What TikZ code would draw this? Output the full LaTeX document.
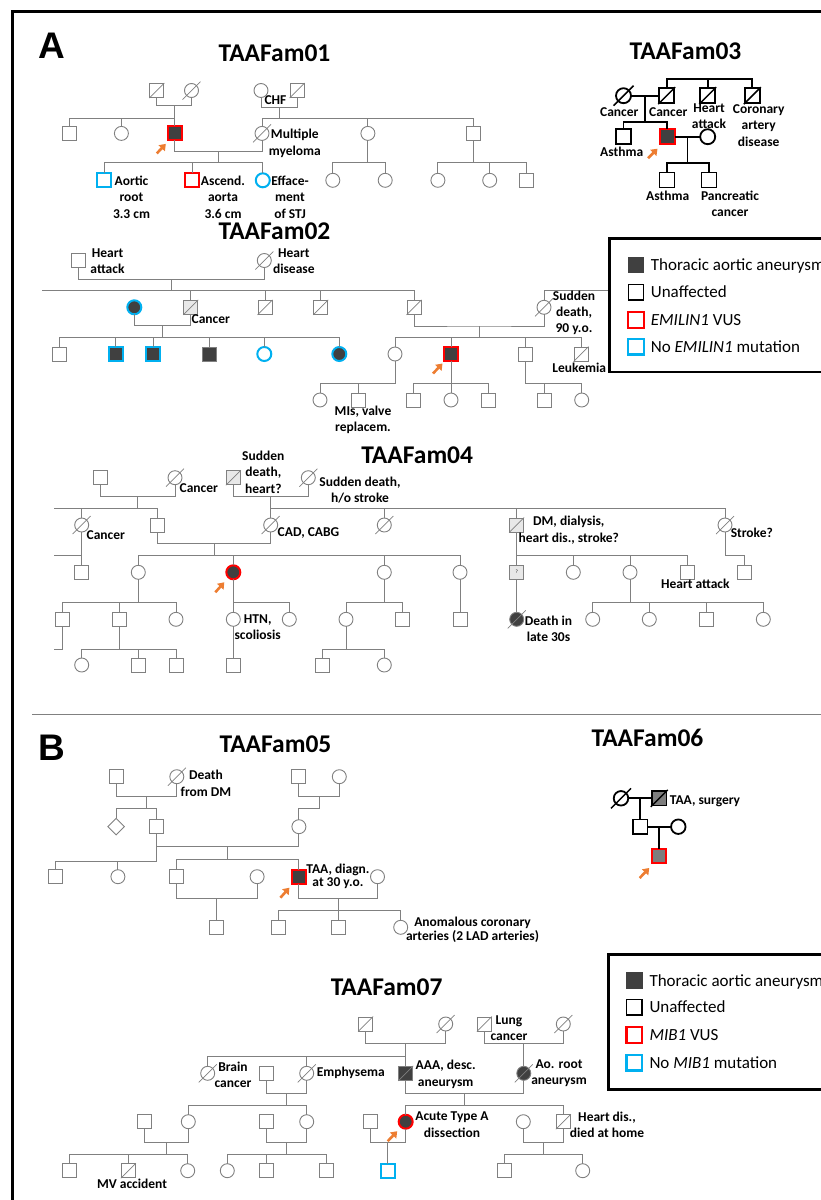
\documentclass[tikz,border=0pt]{standalone}
\usepackage{fontspec}
\setmainfont{Carlito}
\newfontfamily\panelfont{Liberation Sans}
\usetikzlibrary{arrows.meta,shapes.geometric}
\definecolor{pedgray}{gray}{0.5}
\definecolor{affgray}{RGB}{64,64,64}
\definecolor{midgray}{RGB}{125,125,125}
\definecolor{vusred}{RGB}{255,0,0}
\definecolor{nomutcyan}{RGB}{0,176,240}
\definecolor{arroworange}{RGB}{237,125,49}
\newcommand{\labsize}{\bfseries\fontsize{13.5pt}{16.3pt}\selectfont}
\newcommand{\titlesize}{\bfseries\fontsize{25.5pt}{30pt}\selectfont}
\newcommand{\legsize}{\fontsize{17pt}{20pt}\selectfont}

\begin{document}
\begin{tikzpicture}[x=1pt,y=-1pt,
    ind/.style={draw=pedgray,line width=.9pt,fill=white,minimum size=14pt,inner sep=0pt,outer sep=0pt},
    male/.style={ind,rectangle},
    female/.style={ind,circle},
    unknown/.style={ind,diamond,minimum width=16.5pt,minimum height=16.5pt},
    aff/.style={fill=affgray},
    light/.style={fill=gray!18},
    vus/.style={draw=vusred,line width=2pt},
    nomut/.style={draw=nomutcyan,line width=2pt},
    slash/.style={draw=pedgray,line width=.7pt},
    dead/.style={append after command={([shift={(-#1,#1)}]\tikzlastnode.center)
        edge[slash] ([shift={(#1,-#1)}]\tikzlastnode.center)}},
    dead/.default=9,
    rel/.style={draw=pedgray,line width=.9pt},
    lab/.style={font=\labsize,align=center,inner sep=0pt},
    title/.style={font=\titlesize,inner sep=0pt},
    parrow/.style={draw=arroworange,line width=2.6pt,-{Triangle[length=6pt,width=8.5pt]}},
    legbox/.style={draw=black,line width=2.6pt,fill=white,anchor=north west,minimum width=240pt},
    legsym/.style={draw=black,line width=1.3pt,minimum size=15.5pt,inner sep=0pt},
    legtext/.style={font=\legsize,anchor=base west,inner sep=0pt}
  ]
  \useasboundingbox (0,0) rectangle (821,1200);
  \clip (0,0) rectangle (821,1200);

  % frame, panels
  \draw[line width=2.2pt] (12.5,1210) |- (830,11.5);
  \draw[draw=pedgray,line width=1.5pt] (32,714.3) -- (830,714.3);
  \node[font=\panelfont\bfseries\fontsize{37pt}{40pt}\selectfont,inner sep=0pt] (panelA) at (51.4,46) {A};
  \node[font=\panelfont\bfseries\fontsize{37pt}{40pt}\selectfont,inner sep=0pt] (panelB) at (52.3,747.5) {B};

  % ---------------- TAAFam01
  \node[title] (t01) at (274.5,53.5) {TAAFam01};
  \node[male,dead=7.5] (aI1) at (156.9,90.5) {};
  \node[female,dead] (aI2) at (191.5,90.5) {};
  \node[female] (aI3) at (261,90.5) {};
  \node[male,dead=7.5] (aI4) at (297.2,90.5) {};
  \node[male] (aII1) at (69,133.4) {};
  \node[female] (aII2) at (121.4,133.4) {};
  \node[male,aff,vus] (aII3) at (174.8,133.4) {};
  \node[female,dead] (aII4) at (262,133.4) {};
  \node[female] (aII5) at (367.9,133.4) {};
  \node[male] (aII6) at (473.1,133.4) {};
  \node[male,nomut] (aIII1) at (104.1,180.3) {};
  \node[male,vus] (aIII2) at (192.1,180.3) {};
  \node[female,nomut] (aIII3) at (262.8,180.3) {};
  \node[female] (aIII4) at (332.8,180.3) {};
  \node[female] (aIII5) at (385.2,180.3) {};
  \node[female] (aIII6) at (437.9,180.3) {};
  \node[female] (aIII7) at (489.7,180.3) {};
  \node[male] (aIII8) at (526.6,180.3) {};
  \coordinate (aM1) at (174.8,105.2);
  \coordinate (aM2) at (279.1,107.5);
  \coordinate (aM3) at (218.4,151.7);
  \coordinate (aS1) at (0,118.3);
  \coordinate (aS2) at (0,162.8);

  \draw[rel] (aI1.south) |- (aM1) -| (aI2.south);
  \draw[rel] (aM1) -- (aM1 |- aS1);
  \draw[rel] (aII1.north) |- (aS1 -| aII3) -- (aII3.north);
  \draw[rel] (aII2.north) -- (aII2 |- aS1);
  \draw[rel] (aI3.south) |- (aM2) -| (aI4.south);
  \draw[rel] (aM2) -- (aM2 |- aS1);
  \draw[rel] (aII4.north) |- (aS1 -| aII6) -- (aII6.north);
  \draw[rel] (aII5.north) -- (aII5 |- aS1);
  \draw[rel] (aII3.south) |- (aM3) -| (aII4.south);
  \draw[rel] (aM3) -- (aM3 |- aS2);
  \draw[rel] (aIII1.north) |- (aS2 -| aIII3) -- (aIII3.north);
  \draw[rel] (aIII2.north) -- (aIII2 |- aS2);
  \draw[rel] (aII5.south) -- (aII5 |- aS2);
  \draw[rel] (aIII4.north) |- (aS2 -| aIII5) -- (aIII5.north);
  \draw[rel] (aII6.south) -- (aII6 |- aS2);
  \draw[rel] (aIII6.north) |- (aS2 -| aIII8) -- (aIII8.north);
  \draw[rel] (aIII7.north) -- (aIII7 |- aS2);
  \draw[parrow] ([shift={(-18,20)}]aII3.center) -- ([shift={(-9,10.5)}]aII3.center);

  \node[lab] (aL0) at (275.5,100.5) {CHF};
  \node[lab] (aL1) at (294.8,143.4) {Multiple\\myeloma};
  \node[lab] (aL2) at (131.5,197.2) {Aortic\\root\\3.3 cm};
  \node[lab] (aL3) at (223,197.2) {Ascend.\\aorta\\3.6 cm};
  \node[lab] (aL4) at (290,197.2) {Efface-\\ment\\of STJ};

  % ---------------- TAAFam03
  \begin{scope}[ind/.append style={draw=black,line width=1.8pt,minimum size=15pt},
      rel/.append style={draw=black,line width=1.8pt},
      slash/.append style={draw=black,line width=1.5pt}]
    \node[title] (t03) at (685.5,51.3) {TAAFam03};
    \node[female,dead=10] (cI1) at (623.5,95.7) {};
    \node[male,dead=8.5] (cI2) at (666.7,95.7) {};
    \node[male,dead=8.5] (cI3) at (707.7,95.7) {};
    \node[male,dead=8.5] (cI4) at (752.3,95.7) {};
    \node[male] (cII1) at (623.5,136.7) {};
    \node[male,aff,vus] (cII2) at (667,136.7) {};
    \node[female] (cII3) at (707.7,136.7) {};
    \node[male] (cIII1) at (667,180) {};
    \node[male] (cIII2) at (709,180) {};
    \coordinate (cS0) at (0,79.3);
    \coordinate (cM1) at (645.1,95.7);
    \coordinate (cS1) at (0,121.7);
    \coordinate (cM2) at (687.4,136.7);
    \coordinate (cS2) at (0,162.7);

    \draw[rel] (cI2.north) |- (cS0 -| cI4) -- (cI4.north);
    \draw[rel] (cI3.north) -- (cI3 |- cS0);
    \draw[rel] (cI1) -- (cI2);
    \draw[rel] (cM1) -- (cM1 |- cS1);
    \draw[rel] (cII1.north) |- (cS1 -| cII2) -- (cII2.north);
    \draw[rel] (cII2) -- (cII3);
    \draw[rel] (cM2) -- (cM2 |- cS2);
    \draw[rel] (cIII1.north) |- (cS2 -| cIII2) -- (cIII2.north);
    \draw[parrow] ([shift={(-19,21.5)}]cII2.center) -- ([shift={(-9.5,12)}]cII2.center);

    \node[lab] (cL1) at (619.3,111.7) {Cancer};
    \node[lab] (cL2) at (668.3,111.7) {Cancer};
    \node[lab] (cL3) at (709,116.5) {Heart\\attack};
    \node[lab] (cL4) at (758.7,125.5) {Coronary\\artery\\disease};
    \node[lab] (cL5) at (621.7,152.3) {Asthma};
    \node[lab] (cL6) at (667.7,196) {Asthma};
    \node[lab] (cL7) at (730,204) {Pancreatic\\cancer};
  \end{scope}

  % ---------------- TAAFam02
  \node[title] (t02) at (274.5,231.7) {TAAFam02};
  \node[male] (bI1) at (78.3,260.5) {};
  \node[female,dead] (bI2) at (264.3,260.5) {};
  \node[female,aff,nomut] (bII1) at (134.3,307.3) {};
  \node[male,light,dead=7.5] (bII2) at (190.7,307.3) {};
  \node[male,dead=7.5] (bII3) at (265,307.3) {};
  \node[male,dead=7.5] (bII4) at (320.7,307.3) {};
  \node[male,dead=7.5] (bII5) at (414,307.3) {};
  \node[female,dead] (bII6) at (544,307.3) {};
  \node[male] (bIII1) at (59.3,354) {};
  \node[male,aff,nomut] (bIII2) at (115.7,354) {};
  \node[male,aff,nomut] (bIII3) at (153.3,354) {};
  \node[male,aff] (bIII4) at (209,354) {};
  \node[female,nomut] (bIII5) at (264.3,354) {};
  \node[female,aff,nomut] (bIII6) at (339.3,354) {};
  \node[female] (bIII7) at (395,354) {};
  \node[male,aff,vus] (bIII8) at (451,354) {};
  \node[male] (bIII9) at (525.7,354) {};
  \node[male,dead=7.5] (bIII10) at (581,354) {};
  \node[female] (bIV1) at (320,400) {};
  \node[male] (bIV2) at (358.3,400) {};
  \node[male] (bIV3) at (413.3,400) {};
  \node[female] (bIV4) at (451,400) {};
  \node[male] (bIV5) at (488.3,400) {};
  \node[male] (bIV6) at (544,400) {};
  \node[female] (bIV7) at (581.7,400) {};
  \coordinate (bM1) at (171.3,279.3);
  \coordinate (bS1) at (42.3,290.7);
  \coordinate (bP1) at (615,290.7);
  \coordinate (bM2) at (162.5,325.7);
  \coordinate (bM3) at (479,326);
  \coordinate (bS2) at (0,337.3);
  \coordinate (bS3) at (0,383.3);

  \draw[rel] (bI1.south) |- (bM1) -| (bI2.south);
  \draw[rel] (bM1) -- (bM1 |- bS1);
  \draw[rel] (bS1) -| (bII5.north);
  \foreach \n in {bII2,bII3,bII4} \draw[rel] (\n.north) -- (\n |- bS1);
  \draw[rel] (bII6.north) |- (bP1);
  \draw[rel] (bII1.south) |- (bM2) -| (bII2.south);
  \draw[rel] (bM2) -- (bM2 |- bS2);
  \draw[rel] (bIII1.north) |- (bS2 -| bIII6) -- (bIII6.north);
  \foreach \n in {bIII2,bIII3,bIII4,bIII5} \draw[rel] (\n.north) -- (\n |- bS2);
  \draw[rel] (bII5.south) |- (bM3) -| (bII6.south);
  \draw[rel] (bM3) -- (bM3 |- bS2);
  \draw[rel] (bIII7.north) |- (bS2 -| bIII10) -- (bIII10.north);
  \foreach \n in {bIII8,bIII9} \draw[rel] (\n.north) -- (\n |- bS2);
  \draw[rel] (bIII7.south) |- (bS3 -| bIV1) -- (bIV1.north);
  \draw[rel] (bIV2.north) -- (bIV2 |- bS3);
  \draw[rel] (bIII8.south) -- (bIV4.north);
  \draw[rel] (bIV3.north) |- (bS3 -| bIV5) -- (bIV5.north);
  \draw[rel] (bIII9.south) |- (bS3 -| bIV7) -- (bIV7.north);
  \draw[rel] (bIV6.north) -- (bIV6 |- bS3);
  \draw[parrow] ([shift={(-18,19.5)}]bIII8.center) -- ([shift={(-8.5,9.5)}]bIII8.center);

  \node[lab] (bL1) at (107.5,261) {Heart\\attack};
  \node[lab] (bL2) at (293.8,261) {Heart\\disease};
  \node[lab] (bL3) at (210.8,319.3) {Cancer};
  \node[lab] (bL4) at (574,313) {Sudden\\death,\\90 y.o.};
  \node[lab] (bL5) at (579.3,368.3) {Leukemia};
  \node[lab] (bL6) at (363,420) {MIs, valve\\replacem.};

  % ---------------- TAAFam04
  \node[title] (t04) at (417.2,455) {TAAFam04};
  \node[male] (dI1) at (100,477.7) {};
  \node[female,dead] (dI2) at (175,477.7) {};
  \node[male,light,dead=7.5] (dI3) at (233.3,477.7) {};
  \node[female,dead] (dI4) at (308.3,477.7) {};
  \node[female,dead] (dII1) at (81.7,525) {};
  \node[male] (dII2) at (157.7,525) {};
  \node[female,dead] (dII3) at (270.7,525) {};
  \node[female,dead] (dII4) at (384.3,525) {};
  \node[male,light,dead=7.5] (dII5) at (516.7,525) {};
  \node[female,dead] (dII6) at (725,525) {};
  \node[male] (dIII1) at (81.7,572.3) {};
  \node[female] (dIII2) at (138.3,572.3) {};
  \node[female,aff,vus] (dIII3) at (233.3,572.3) {};
  \node[female] (dIII4) at (384.3,572.3) {};
  \node[female] (dIII5) at (460,572.3) {};
  \node[male,light,font=\fontsize{5pt}{6pt}\selectfont] (dIII6) at (516.7,572.3) {?};
  \node[female] (dIII7) at (573.3,572.3) {};
  \node[female] (dIII8) at (630,572.3) {};
  \node[male] (dIII9) at (687.3,572.3) {};
  \node[male] (dIII10) at (744,572.3) {};
  \node[male] (dIV1) at (62.7,619.3) {};
  \node[male] (dIV2) at (119.3,619.3) {};
  \node[female] (dIV3) at (176,619.3) {};
  \node[female] (dIV4) at (233.3,619.3) {};
  \node[female] (dIV5) at (289.3,619.3) {};
  \node[female] (dIV6) at (346,619.3) {};
  \node[male] (dIV7) at (402.7,619.3) {};
  \node[male] (dIV8) at (460,619.3) {};
  \node[female,aff,dead] (dIV9) at (516.7,619.3) {};
  \node[female] (dIV10) at (592.7,619.3) {};
  \node[female] (dIV11) at (649.3,619.3) {};
  \node[male] (dIV12) at (706,619.3) {};
  \node[female] (dIV13) at (763.3,619.3) {};
  \node[female] (dV1) at (81.7,665) {};
  \node[male] (dV2) at (138.3,665) {};
  \node[male] (dV3) at (176.7,665) {};
  \node[male] (dV4) at (233.3,665) {};
  \node[male] (dV5) at (322.7,665) {};
  \node[female] (dV6) at (384.3,665) {};
  \coordinate (dM1) at (137.5,496.7);
  \coordinate (dM2) at (270.7,496.7);
  \coordinate (dS1) at (54,508.3);
  \coordinate (dM3) at (214.2,543.3);
  \coordinate (dS2) at (54,555.7);
  \coordinate (dS3) at (54,602.7);
  \coordinate (dS4) at (54,649.3);

  \draw[rel] (dI1.south) |- (dM1) -| (dI2.south);
  \draw[rel] (dM1) -- (dM1 |- dS1);
  \draw[rel] (dS1) -| (dII2.north);
  \draw[rel] (dII1.north) -- (dII1 |- dS1);
  \draw[rel] (dI3.south) |- (dM2) -| (dI4.south);
  \draw[rel] (dM2) -- (dM2 |- dS1);
  \draw[rel] (dII3.north) |- (dS1 -| dII6) -- (dII6.north);
  \foreach \n in {dII4,dII5} \draw[rel] (\n.north) -- (\n |- dS1);
  \draw[rel] (dII1.south) -- (dIII1.north);
  \draw[rel] (dS2) -- (dS2 -| dII1);
  \draw[rel] (dII2.south) |- (dM3) -| (dII3.south);
  \draw[rel] (dM3) -- (dM3 |- dS2);
  \draw[rel] (dIII2.north) |- (dS2 -| dIII5) -- (dIII5.north);
  \foreach \n in {dIII3,dIII4} \draw[rel] (\n.north) -- (\n |- dS2);
  \draw[rel] (dII5.south) |- (dS2 -| dIII9) -- (dIII9.north);
  \foreach \n in {dIII6,dIII7,dIII8} \draw[rel] (\n.north) -- (\n |- dS2);
  \draw[rel] (dII6.south) |- (dS2 -| dIII10) -- (dIII10.north);
  \draw[rel] (dIII2.south) -- (dIII2 |- dS3);
  \draw[rel] (dIV1.north) |- (dS3 -| dIV3) -- (dIV3.north);
  \draw[rel] (dIV2.north) -- (dIV2 |- dS3);
  \draw[rel] (dIII3.south) -- (dIV4.north);
  \draw[rel] (dIV4 |- dS3) -| (dIV5.north);
  \draw[rel] (dIII4.south) -- (dIII4 |- dS3);
  \draw[rel] (dIV6.north) |- (dS3 -| dIV7) -- (dIV7.north);
  \draw[rel] (dIII5) -- (dIV8);
  \draw[rel] (dIII6) -- (dIV9);
  \draw[rel] (dIII8.south) -- (dIII8 |- dS3);
  \draw[rel] (dIV10.north) |- (dS3 -| dIV13) -- (dIV13.north);
  \foreach \n in {dIV11,dIV12} \draw[rel] (\n.north) -- (\n |- dS3);
  \draw[rel] (dIV1.south) |- (dS4);
  \draw[rel] (dIV2.south) -- (dIV2 |- dS4);
  \draw[rel] (dV1.north) |- (dS4 -| dV3) -- (dV3.north);
  \draw[rel] (dV2.north) -- (dV2 |- dS4);
  \draw[rel] (dIV4) -- (dV4);
  \draw[rel] (dIV6.south) -- (dIV6 |- dS4);
  \draw[rel] (dV5.north) |- (dS4 -| dV6) -- (dV6.north);
  \draw[parrow] ([shift={(-18,20)}]dIII3.center) -- ([shift={(-9,10)}]dIII3.center);

  \node[lab] (dL1) at (198.8,487.7) {Cancer};
  \node[lab] (dL2) at (263.3,472.3) {Sudden\\death,\\heart?};
  \node[lab] (dL3) at (360,490) {Sudden death,\\h/o stroke};
  \node[lab] (dL4) at (105.8,535) {Cancer};
  \node[lab] (dL5) at (308.5,533.3) {CAD, CABG};
  \node[lab] (dL6) at (568.8,530.3) {DM, dialysis,\\heart dis., stroke?};
  \node[lab] (dL7) at (751.8,533.3) {Stroke?};
  \node[lab] (dL8) at (695.3,584) {Heart attack};
  \node[lab] (dL9) at (257.7,627) {HTN,\\scoliosis};
  \node[lab] (dL10) at (548.5,629) {Death in\\late 30s};

  % ---------------- TAAFam05
  \node[title] (t05) at (275.5,744) {TAAFam05};
  \node[male] (eI1) at (116.1,776.7) {};
  \node[female,dead] (eI2) at (176.8,776.7) {};
  \node[male] (eI3) at (298.9,776.7) {};
  \node[female] (eI4) at (339.3,776.7) {};
  \node[unknown] (eII1) at (116.1,826.7) {};
  \node[male] (eII2) at (156.1,826.7) {};
  \node[female] (eII3) at (298.9,826.7) {};
  \node[male] (eIII1) at (55.4,876.7) {};
  \node[female] (eIII2) at (117.9,876.7) {};
  \node[male] (eIII3) at (176.1,876.7) {};
  \node[female] (eIII4) at (257.1,876.7) {};
  \node[male,aff,vus] (eIII5) at (298.9,876.7) {};
  \node[female] (eIII6) at (377.5,876.7) {};
  \node[male] (eIV1) at (216.6,927.3) {};
  \node[male] (eIV2) at (278.6,927.3) {};
  \node[male] (eIV3) at (338.2,927.3) {};
  \node[female] (eIV4) at (400.7,927.3) {};
  \coordinate (eM1) at (146.4,796.7);
  \coordinate (eM2) at (319.1,796.7);
  \coordinate (eS1) at (0,808.3);
  \coordinate (eM3) at (227.5,846.7);
  \coordinate (eS2) at (0,859);
  \coordinate (eS2l) at (0,861.7);
  \coordinate (eM4) at (216.6,898.3);
  \coordinate (eM5) at (338.2,898.3);
  \coordinate (eS3) at (0,910);

  \draw[rel] (eI1.south) |- (eM1) -| (eI2.south);
  \draw[rel] (eM1) -- (eM1 |- eS1);
  \draw[rel] (eII1.north) |- (eS1 -| eII2) -- (eII2.north);
  \draw[rel] (eI3.south) |- (eM2) -| (eI4.south);
  \draw[rel] (eM2) |- (eS1 -| eII3) -- (eII3.north);
  \draw[rel] (eII2.south) |- (eM3) -| (eII3.south);
  \draw[rel] (eII2.south) |- (eS2l -| eIII1) -- (eIII1.north);
  \draw[rel] (eIII2.north) -- (eIII2 |- eS2l);
  \draw[rel] (eM3) -- (eM3 |- eS2);
  \draw[rel] (eIII3.north) |- (eS2 -| eIII5) -- (eIII5.north);
  \draw[rel] (eIII3.south) |- (eM4) -| (eIII4.south);
  \draw[rel] (eM4) -- (eIV1.north);
  \draw[rel] (eIII5.south) |- (eM5) -| (eIII6.south);
  \draw[rel] (eM5) -- (eM5 |- eS3);
  \draw[rel] (eIV2.north) |- (eS3 -| eIV4) -- (eIV4.north);
  \draw[rel] (eIV3.north) -- (eIV3 |- eS3);
  \draw[parrow] ([shift={(-18.5,21)}]eIII5.center) -- ([shift={(-9.5,11)}]eIII5.center);

  \node[lab] (eL1) at (206,783.3) {Death\\from DM};
  \node[lab,font=\bfseries\fontsize{13.5pt}{13.5pt}\selectfont] (eL2) at (338,876.5) {TAA, diagn.\\at 30 y.o.};
  \node[lab,font=\bfseries\fontsize{13.5pt}{14.2pt}\selectfont] (eL3) at (472.5,929.7) {Anomalous coronary\\arteries (2 LAD arteries)};

  % ---------------- TAAFam06
  \begin{scope}[ind/.append style={draw=black,line width=1.8pt,minimum size=14.5pt},
      rel/.append style={draw=black,line width=1.8pt},
      slash/.append style={draw=black,line width=1.5pt}]
    \node[title] (t06) at (647.5,738.3) {TAAFam06};
    \node[female,dead=10] (fI1) at (621,798.3) {};
    \node[male,fill=midgray,dead=8.5] (fI2) at (659.3,798.3) {};
    \node[male] (fII1) at (640.2,826.7) {};
    \node[female] (fII2) at (678.3,826.7) {};
    \node[male,fill=midgray,vus] (fIII1) at (659.2,856) {};
    \coordinate (fM1) at (640.2,798.3);
    \coordinate (fM2) at (659.2,826.7);
    \draw[rel] (fI1) -- (fI2);
    \draw[rel] (fM1) -- (fII1.north);
    \draw[rel] (fII1) -- (fII2);
    \draw[rel] (fM2) -- (fIII1.north);
    \draw[parrow] ([shift={(-19.5,22)}]fIII1.center) -- ([shift={(-10,12)}]fIII1.center);
    \node[lab] (fL1) at (705,801.7) {TAA, surgery};
  \end{scope}

  % ---------------- TAAFam07
  \node[title] (t07) at (386.7,987) {TAAFam07};
  \node[male,dead=7.5] (gI1) at (365.7,1024) {};
  \node[female,dead] (gI2) at (445.7,1024) {};
  \node[male,dead=7.5] (gI3) at (484.3,1024) {};
  \node[female,dead] (gI4) at (563.3,1024) {};
  \node[female,dead] (gII1) at (207.7,1073.3) {};
  \node[male] (gII2) at (266.7,1073.3) {};
  \node[female,dead] (gII3) at (306.7,1073.3) {};
  \node[male,aff,dead=7.5] (gII4) at (405.7,1073.3) {};
  \node[female,aff,dead] (gII5) at (523.8,1073.3) {};
  \node[male] (gIII1) at (144,1121.7) {};
  \node[female] (gIII2) at (188.3,1121.7) {};
  \node[male] (gIII3) at (266.7,1121.7) {};
  \node[female] (gIII4) at (306.7,1121.7) {};
  \node[male] (gIII5) at (370,1121.7) {};
  \node[female,aff,vus] (gIII6) at (405.7,1121.7) {};
  \node[female] (gIII7) at (523.3,1121.7) {};
  \node[male,dead=7.5] (gIII8) at (563.3,1121.7) {};
  \node[male] (gIV1) at (69.3,1170.7) {};
  \node[male,dead=7.5] (gIV2) at (128.3,1170.7) {};
  \node[female] (gIV3) at (187.7,1170.7) {};
  \node[female] (gIV4) at (227.3,1170.7) {};
  \node[male] (gIV5) at (266.7,1170.7) {};
  \node[male] (gIV6) at (326,1170.7) {};
  \node[male,nomut] (gIV7) at (387.8,1170.7) {};
  \node[male] (gIV8) at (504,1170.7) {};
  \node[female] (gIV9) at (582.7,1170.7) {};
  \coordinate (gM1) at (405.7,1043.3);
  \coordinate (gM2) at (523.8,1043.3);
  \coordinate (gS1) at (0,1056);
  \coordinate (gM3) at (286.7,1093.3);
  \coordinate (gM4) at (464.8,1093.3);
  \coordinate (gS2) at (0,1105);
  \coordinate (gM5) at (166.2,1142.3);
  \coordinate (gM6) at (286.7,1142.3);
  \coordinate (gM7) at (387.8,1142.3);
  \coordinate (gM8) at (543.3,1142.3);
  \coordinate (gS3) at (0,1154);

  \draw[rel] (gI1.south) |- (gM1) -| (gI2.south);
  \draw[rel] (gM1) -- (gM1 |- gS1);
  \draw[rel] (gII1.north) |- (gS1 -| gII4) -- (gII4.north);
  \draw[rel] (gII3.north) -- (gII3 |- gS1);
  \draw[rel] (gI3.south) |- (gM2) -| (gI4.south);
  \draw[rel] (gM2) -- (gII5.north);
  \draw[rel] (gII2.south) |- (gM3) -| (gII3.south);
  \draw[rel] (gM3) -- (gM3 |- gS2);
  \draw[rel] (gIII2.north) |- (gS2 -| gIII4) -- (gIII4.north);
  \draw[rel] (gII4.south) |- (gM4) -| (gII5.south);
  \draw[rel] (gM4) -- (gM4 |- gS2);
  \draw[rel] (gIII6.north) |- (gS2 -| gIII8) -- (gIII8.north);
  \draw[rel] (gIII1.south) |- (gM5) -| (gIII2.south);
  \draw[rel] (gM5) -- (gM5 |- gS3);
  \draw[rel] (gIV1.north) |- (gS3 -| gIV3) -- (gIV3.north);
  \draw[rel] (gIV2.north) -- (gIV2 |- gS3);
  \draw[rel] (gIII3.south) |- (gM6) -| (gIII4.south);
  \draw[rel] (gM6) -- (gM6 |- gS3);
  \draw[rel] (gIV4.north) |- (gS3 -| gIV6) -- (gIV6.north);
  \draw[rel] (gIV5.north) -- (gIV5 |- gS3);
  \draw[rel] (gIII5.south) |- (gM7) -| (gIII6.south);
  \draw[rel] (gM7) -- (gIV7.north);
  \draw[rel] (gIII7.south) |- (gM8) -| (gIII8.south);
  \draw[rel] (gM8) -- (gM8 |- gS3);
  \draw[rel] (gIV8.north) |- (gS3 -| gIV9) -- (gIV9.north);
  \draw[parrow] ([shift={(-18,19.5)}]gIII6.center) -- ([shift={(-8.5,9.5)}]gIII6.center);

  \node[lab] (gL1) at (509,1028) {Lung\\cancer};
  \node[lab] (gL2) at (233,1074.7) {Brain\\cancer};
  \node[lab] (gL3) at (350.8,1073.3) {Emphysema};
  \node[lab] (gL4) at (445.7,1074.3) {AAA, desc.\\aneurysm};
  \node[lab] (gL5) at (559,1073.3) {Ao. root\\aneurysm};
  \node[lab] (gL6) at (452,1124.7) {Acute Type A\\dissection};
  \node[lab] (gL7) at (607,1124.7) {Heart dis.,\\died at home};
  \node[lab] (gL8) at (132,1183.3) {MV accident};

  % ---------------- legends
  \node[legbox,minimum height=133.4pt] (legA) at (608,237.3) {};
  \node[legsym,fill=affgray,draw=affgray] (legA1) at (636,265) {};
  \node[legsym] (legA2) at (636,292.3) {};
  \node[legsym,draw=vusred,line width=2.4pt] (legA3) at (636,320) {};
  \node[legsym,draw=nomutcyan,line width=2.4pt] (legA4) at (636,346.7) {};
  \node[legtext] (legA1t) at (650.7,270.5) {Thoracic aortic aneurysm};
  \node[legtext] (legA2t) at (650.7,297.8) {Unaffected};
  \node[legtext] (legA3t) at (650.7,325.5) {\textit{EMILIN1} VUS};
  \node[legtext] (legA4t) at (650.7,352.2) {No \textit{EMILIN1} mutation};

  \node[legbox,minimum height=135pt] (legB) at (607,953) {};
  \node[legsym,fill=affgray,draw=affgray] (legB1) at (634.3,980.7) {};
  \node[legsym] (legB2) at (634.3,1007.3) {};
  \node[legsym,draw=vusred,line width=2.4pt] (legB3) at (634.3,1035) {};
  \node[legsym,draw=nomutcyan,line width=2.4pt] (legB4) at (634.3,1062.7) {};
  \node[legtext] (legB1t) at (649.3,986.2) {Thoracic aortic aneurysm};
  \node[legtext] (legB2t) at (649.3,1012.8) {Unaffected};
  \node[legtext] (legB3t) at (649.3,1040.5) {\textit{MIB1} VUS};
  \node[legtext] (legB4t) at (649.3,1068.2) {No \textit{MIB1} mutation};
\end{tikzpicture}
\end{document}
